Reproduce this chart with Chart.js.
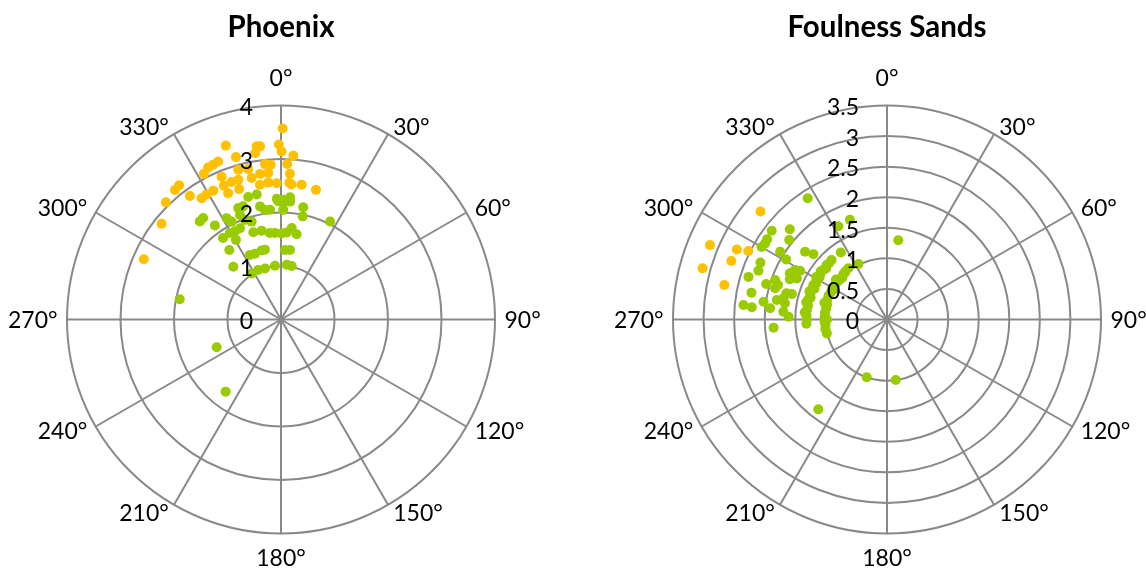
<!DOCTYPE html>
<html>
<head>
<meta charset="utf-8">
<script src="https://cdn.jsdelivr.net/npm/chart.js@4.4.1/dist/chart.umd.min.js"></script>
<style>
  html, body { margin: 0; padding: 0; background: #ffffff; }
  #wrap { position: relative; width: 1146px; height: 570px; overflow: hidden; }
  .panel { position: absolute; top: 0; width: 573px; height: 570px; }
  canvas { display: block; }
</style>
</head>
<body>
<div id="wrap">
  <div class="panel" style="left:0"><canvas id="phoenix" width="573" height="570"></canvas></div>
  <div class="panel" style="left:573px"><canvas id="foulness" width="573" height="570"></canvas></div>
</div>
<script>
// ---- Angle axis (degrees clockwise from north) ----
const angleTicks  = [0, 30, 60, 90, 120, 150, 180, 210, 240, 270, 300, 330];
const angleLabels = ['0°', '30°', '60°', '90°', '120°', '150°', '180°', '210°', '240°', '270°', '300°', '330°'];

// ---- Radial ticks ----
const phoenixTicks  = [0, 1, 2, 3, 4];
const foulnessTicks = [0, 0.5, 1, 1.5, 2, 2.5, 3, 3.5];

// ---- Phoenix: direction (deg) and magnitude ----
const phoenixHighDir = [0.5, 342.4, 352.0, 353.1, 359.3, 0.2, 351.2, 344.5, 4.3, 338.3, 336.3, 334.4, 332.1,
  354.1, 356.2, 2.3, 344.1, 347.7, 351.8, 355.0, 3.5, 337.4, 340.2, 343.0, 348.3, 351.1, 354.7, 358.2,
  3.5, 4.5, 8.7, 336.9, 337.3, 342.2, 15.1, 322.8, 320.7, 323.6, 326.8, 329.2, 332.3, 315.5, 308.7, 293.7];
const phoenixHighVal = [3.57, 3.41, 3.27, 3.26, 3.27, 3.14, 3.15, 3.15, 3.07, 3.18, 3.16, 3.15, 3.08,
  2.92, 2.90, 2.91, 2.91, 2.88, 2.75, 2.75, 2.73, 2.89, 2.73, 2.73, 2.70, 2.55, 2.57, 2.55,
  2.56, 2.53, 2.55, 2.72, 2.56, 2.56, 2.51, 3.15, 3.13, 2.87, 2.71, 2.72, 2.72, 3.07, 2.86, 2.80];

const phoenixLowDir = [339.0, 341.5, 349.5, 351.7, 354.3, 358.7, 1.9, 4.4, 1.2, 11.2, 11.9, 322.5, 320.4,
  331.8, 333.2, 338.6, 340.1, 343.3, 324.9, 26.6, 335.8, 332.4, 329.4, 342.4, 347.7, 352.7, 356.0,
  0.5, 3.8, 6.7, 10.4, 324.6, 330.5, 323.4, 344.3, 347.0, 334.3, 338.4, 3.3, 7.4, 317.9, 327.6,
  335.4, 342.6, 353.6, 6.0, 11.3, 345.0, 349.0, 358.0, 1.1, 4.2, 281.3, 246.6, 217.5];
const phoenixLowVal = [2.23, 2.23, 2.15, 2.07, 2.06, 2.21, 2.21, 2.21, 2.05, 2.14, 1.97, 2.39, 2.38,
  2.15, 2.05, 2.10, 1.98, 1.91, 2.15, 2.05, 1.87, 1.86, 1.88, 1.71, 1.70, 1.63, 1.62,
  1.61, 1.63, 1.72, 1.62, 1.87, 1.71, 1.62, 1.34, 1.34, 1.34, 1.32, 1.30, 1.31, 1.33, 1.02,
  1.02, 1.00, 1.01, 1.03, 1.02, 2.37, 2.38, 2.26, 2.24, 2.29, 1.93, 1.31, 1.70];

// ---- Foulness Sands: direction (deg) and magnitude ----
const foulnessHighDir = [310.5, 292.8, 295.0, 296.3, 290.6, 285.5, 282.0];
const foulnessHighVal = [2.72, 3.14, 2.71, 2.53, 2.72, 3.13, 2.72];

const foulnessLowDir = [326.8, 339.6, 332.5, 307.6, 312.9, 309.1, 303.8, 302.0, 300.0, 302.4, 300.8, 309.6,
  311.6, 325.4, 332.7, 294.2, 290.8, 298.3, 299.3, 292.5, 294.5, 289.4, 287.6, 287.1, 281.2, 275.8,
  275.2, 286.4, 285.6, 280.0, 278.2, 284.6, 285.0, 281.6, 279.0, 275.5, 274.3, 271.6, 265.9, 295.5,
  199.4, 217.4, 171.8, 8.1, 318.1,
  257, 261, 265, 268, 272, 276, 280, 284, 288, 292, 296, 299, 303, 306, 310, 313, 316, 319, 323,
  270, 285, 300, 308,
  267, 270, 273, 275, 277, 280, 282, 284, 286, 288, 290, 291, 293, 295, 297, 299, 301, 302, 304,
  306, 308, 310, 312, 314, 317];
const foulnessLowVal = [2.37, 1.74, 1.72, 2.38, 2.17, 2.06, 2.36, 2.35, 2.37, 2.07, 1.92, 1.74,
  1.61, 1.33, 1.02, 2.27, 2.25, 1.71, 1.63, 1.72, 1.62, 1.94, 1.87, 2.37, 2.26, 2.36,
  2.22, 2.06, 1.90, 1.83, 2.04, 1.70, 1.61, 1.73, 1.69, 1.92, 1.70, 1.61, 1.86, 1.76,
  1.00, 1.85, 1.00, 1.31, 1.03,
  1.01, 1.02, 1.01, 1.02, 1.02, 1.02, 1.01, 1.01, 1.03, 1.03, 1.02, 1.03, 1.02, 1.02, 1.01, 1.00, 1.03, 1.04, 1.05,
  0.98, 1.06, 0.99, 1.06,
  1.32, 1.31, 1.32, 1.35, 1.32, 1.31, 1.35, 1.33, 1.30, 1.32, 1.35, 1.32, 1.29, 1.33, 1.30, 1.32, 1.35, 1.30, 1.32,
  1.34, 1.32, 1.30, 1.33, 1.32, 1.33];

const ORANGE = '#FFC000';
const GREEN  = '#99CC00';
const GRID   = '#898989';
const FONT   = 'Lato, "Open Sans", "DejaVu Sans", sans-serif';

// polar (direction clockwise from north, magnitude) -> cartesian point
function toXY(dirs, vals) {
  return dirs.map((d, i) => {
    const t = d * Math.PI / 180;
    return { x: vals[i] * Math.sin(t), y: vals[i] * Math.cos(t) };
  });
}

// Draws the circular grid, spokes, angle labels, radial tick labels and title
const polarFrame = {
  id: 'polarFrame',
  beforeDatasetsDraw(chart, args, opts) {
    const { ctx, scales: { x, y } } = chart;
    const cx = x.getPixelForValue(0);
    const cy = y.getPixelForValue(0);
    const R = x.getPixelForValue(opts.max) - cx;
    ctx.save();
    ctx.strokeStyle = GRID;
    ctx.lineWidth = 2;
    opts.ticks.forEach(v => {
      if (v <= 0) return;
      const r = x.getPixelForValue(v) - cx;
      ctx.beginPath();
      ctx.arc(cx, cy, r, 0, Math.PI * 2);
      ctx.stroke();
    });
    angleTicks.forEach(a => {
      const t = a * Math.PI / 180;
      ctx.beginPath();
      ctx.moveTo(cx, cy);
      ctx.lineTo(cx + R * Math.sin(t), cy - R * Math.cos(t));
      ctx.stroke();
    });

    // angle labels
    const fs = 23, capH = fs * 0.7165;
    ctx.fillStyle = '#000';
    ctx.font = fs + 'px ' + FONT;
    ctx.textBaseline = 'alphabetic';
    angleTicks.forEach((a, i) => {
      const t = a * Math.PI / 180;
      const sx = Math.sin(t), sy = -Math.cos(t);
      const px = cx + R * sx, py = cy + R * sy;
      if (Math.abs(sx) < 0.01) {
        ctx.textAlign = 'center';
        const base = sy < 0 ? py - 19.5 : py + 16 + capH;
        ctx.fillText(angleLabels[i], px, base);
      } else {
        ctx.textAlign = sx > 0 ? 'left' : 'right';
        const gx = px + Math.sign(sx) * (1 + 8.5 * Math.abs(sx));
        const gy = py + 9 * sy + capH / 2;
        ctx.fillText(angleLabels[i], gx, gy);
      }
    });

    // title
    ctx.font = 'bold 29.5px ' + FONT;
    ctx.textAlign = 'center';
    ctx.fillText(opts.title, cx, 36.5);
    ctx.restore();
  },
  afterDatasetsDraw(chart, args, opts) {
    const { ctx, scales: { x, y } } = chart;
    const cx = x.getPixelForValue(0);
    const fs = 23, capH = fs * 0.7165;
    ctx.save();
    ctx.fillStyle = '#000';
    ctx.font = fs + 'px ' + FONT;
    ctx.textAlign = 'right';
    ctx.textBaseline = 'alphabetic';
    opts.ticks.forEach(v => {
      const yy = y.getPixelForValue(v);
      ctx.fillText(String(v), cx - 28, yy + 1.5 + capH / 2);
    });
    ctx.restore();
  }
};

function makeChart(id, title, maxR, ticks, lowDir, lowVal, highDir, highVal, pad) {
  return new Chart(document.getElementById(id), {
    type: 'scatter',
    data: {
      datasets: [
        { data: toXY(lowDir, lowVal), backgroundColor: GREEN, borderWidth: 0, pointRadius: 5, pointHoverRadius: 5 },
        { data: toXY(highDir, highVal), backgroundColor: ORANGE, borderWidth: 0, pointRadius: 5, pointHoverRadius: 5 }
      ]
    },
    options: {
      responsive: false,
      animation: false,
      devicePixelRatio: 1,
      layout: { padding: pad },
      scales: {
        x: { type: 'linear', min: -maxR, max: maxR, display: false },
        y: { type: 'linear', min: -maxR, max: maxR, display: false }
      },
      plugins: {
        legend: { display: false },
        tooltip: { enabled: false },
        polarFrame: { title: title, max: maxR, ticks: ticks }
      }
    },
    plugins: [polarFrame]
  });
}

makeChart('phoenix', 'Phoenix', 4, phoenixTicks,
  phoenixLowDir, phoenixLowVal, phoenixHighDir, phoenixHighVal,
  { left: 67, right: 78, top: 105.5, bottom: 36.5 });

makeChart('foulness', 'Foulness Sands', 3.5, foulnessTicks,
  foulnessLowDir, foulnessLowVal, foulnessHighDir, foulnessHighVal,
  { left: 100, right: 45, top: 105.5, bottom: 36.5 });
</script>
</body>
</html>
